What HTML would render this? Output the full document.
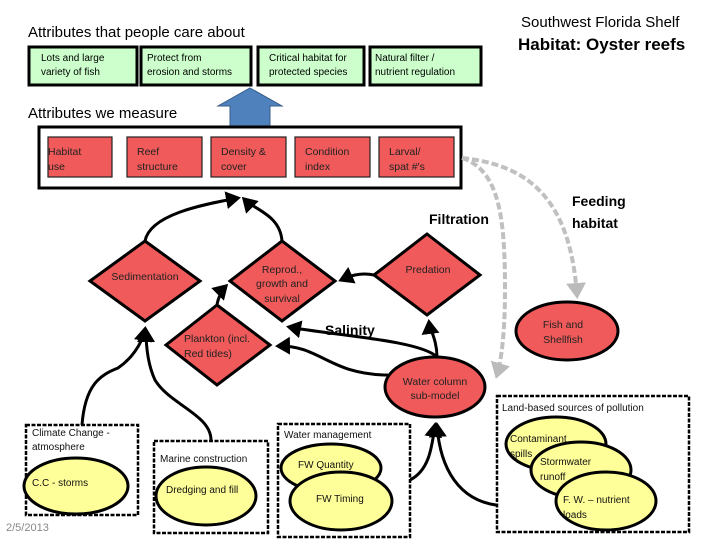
<!DOCTYPE html>
<html><head><meta charset="utf-8"><style>
body{margin:0;width:720px;height:540px;background:#fff;overflow:hidden}
svg{display:block}
text{font-family:"Liberation Sans",sans-serif;}
</style></head><body>
<svg width="720" height="540" viewBox="0 0 720 540">
<defs>
<marker id="a" markerWidth="6" markerHeight="6" refX="4" refY="3" orient="auto" markerUnits="strokeWidth"><path d="M0,0 L5,3 L0,6 Z" fill="#000"/></marker>
<marker id="g" markerWidth="5" markerHeight="5" refX="3" refY="2.5" orient="auto" markerUnits="strokeWidth"><path d="M0,0 L4,2.5 L0,5 Z" fill="#bbb"/></marker>
</defs>
<text x="28" y="37" font-size="15">Attributes that people care about</text>
<text x="521" y="27" font-size="15">Southwest Florida Shelf</text>
<text x="518" y="50" font-size="17" font-weight="bold">Habitat: Oyster reefs</text>
<g stroke="#000" stroke-width="3" fill="#ccffcc">
<rect x="29" y="47" width="108" height="38"/><rect x="141" y="47" width="110" height="38"/>
<rect x="258" y="47" width="106" height="38"/><rect x="370" y="47" width="111" height="38"/></g>
<g font-size="10"><text x="41" y="61">Lots and large</text><text x="41" y="75">variety of fish</text>
<text x="147" y="61">Protect from</text><text x="147" y="75">erosion and storms</text>
<text x="269" y="61">Critical habitat for</text><text x="269" y="75">protected species</text>
<text x="375" y="61">Natural filter /</text><text x="375" y="75">nutrient regulation</text></g>
<path d="M250,88 L282,106 L270,106 L270,126 L230,126 L230,106 L218,106 Z" fill="#4f81bd" stroke="#385d8a" stroke-width="1"/>
<text x="28" y="118" font-size="15">Attributes we measure</text>
<rect x="39" y="127" width="422" height="61" fill="#fff" stroke="#000" stroke-width="3"/>
<g fill="#f05a5a" stroke="#222" stroke-width="1.2">
<rect x="48" y="137" width="64" height="40"/><rect x="127" y="137" width="75" height="40"/><rect x="211" y="137" width="75" height="40"/><rect x="295" y="137" width="75" height="40"/><rect x="379" y="137" width="75" height="40"/></g>
<g font-size="10.5" fill="#222"><text x="48" y="155">Habitat</text><text x="48" y="170">use</text>
<text x="137" y="155">Reef</text><text x="137" y="170">structure</text>
<text x="221" y="155">Density &amp;</text><text x="221" y="170">cover</text>
<text x="305" y="155">Condition</text><text x="305" y="170">index</text>
<text x="389" y="155">Larval/</text><text x="389" y="170">spat #'s</text></g>
<g fill="none" stroke="#c0c0c0" stroke-width="4" stroke-dasharray="7,3">
<path d="M462,158 C500,170 505,220 505,290 C505,340 500,365 497,375" marker-end="url(#g)"/>
<path d="M462,158 C530,165 570,200 577,295" marker-end="url(#g)"/></g>
<g fill="#f05a5a" stroke="#000" stroke-width="3">
<path d="M145,241 L200,281 L145,321 L90,281 Z"/>
<path d="M282,241 L335,281 L282,321 L230,281 Z"/>
<path d="M427,234 L480,275 L427,315 L374,275 Z"/>
<path d="M217,305 L270,345 L217,385 L166,345 Z"/>
<ellipse cx="567" cy="331" rx="51" ry="29"/>
<ellipse cx="435" cy="387" rx="50" ry="30"/></g>
<g font-size="10.5" fill="#222" text-anchor="middle">
<text x="145" y="280">Sedimentation</text>
<text x="282" y="273">Reprod.,</text><text x="282" y="287">growth and</text><text x="282" y="302">survival</text>
<text x="428" y="273">Predation</text>
<text x="563" y="328">Fish and</text><text x="563" y="343">Shellfish</text>
<text x="435" y="385">Water column</text><text x="435" y="399">sub-model</text></g>
<text x="184" y="342" font-size="10.5" fill="#222">Plankton (incl.</text><text x="184" y="357" font-size="10.5" fill="#222">Red tides)</text>
<g font-weight="bold" font-size="14"><text x="429" y="224">Filtration</text><text x="572" y="206">Feeding</text><text x="572" y="228">habitat</text><text x="325" y="335">Salinity</text></g>
<g fill="none" stroke="#000" stroke-width="3">
<path d="M145,241 C150,215 200,205 238,198" marker-end="url(#a)"/>
<path d="M282,241 C280,215 255,210 244,199" marker-end="url(#a)"/>
<path d="M217,305 C218,298 222,290 226,286" marker-end="url(#a)"/>
<path d="M374,275 C360,272 350,276 341,280" marker-end="url(#a)"/>
<path d="M437,357 C437,340 430,330 429,322" marker-end="url(#a)"/>
<path d="M437,357 C420,340 330,335 289,327" marker-end="url(#a)"/>
<path d="M388,375 C330,375 320,345 278,346" marker-end="url(#a)"/>
<path d="M82,425 C85,385 100,375 118,368 C130,360 142,345 145,329" marker-end="url(#a)"/>
<path d="M211,441 C212,415 170,405 155,380 C148,365 146,345 146,330" marker-end="url(#a)"/>
<path d="M410,480 C430,470 432,445 435,425" marker-end="url(#a)"/>
<path d="M496,505 C460,500 440,470 437,425" marker-end="url(#a)"/></g>
<g fill="#fff" stroke="#000" stroke-width="2.5" stroke-dasharray="4,1.5">
<rect x="26" y="425" width="112" height="90"/><rect x="154" y="441" width="114" height="92"/>
<rect x="278" y="424" width="132" height="113"/><rect x="497" y="396" width="192" height="136"/></g>
<g fill="#ffff99" stroke="#000" stroke-width="3">
<ellipse cx="76" cy="486" rx="52" ry="28"/><ellipse cx="206" cy="496" rx="50" ry="29"/>
<ellipse cx="331" cy="468" rx="50" ry="24"/><ellipse cx="341" cy="501" rx="51" ry="29"/>
<ellipse cx="556" cy="444" rx="50" ry="27"/><ellipse cx="581" cy="470" rx="50" ry="28"/><ellipse cx="606" cy="501" rx="50" ry="29"/></g>
<g font-size="10" fill="#111">
<text x="32" y="436">Climate Change -</text><text x="32" y="450">atmosphere</text>
<text x="32" y="486">C.C - storms</text>
<text x="160" y="462">Marine construction</text><text x="166" y="493">Dredging and fill</text>
<text x="284" y="438">Water management</text><text x="298" y="468">FW Quantity</text><text x="316" y="502">FW Timing</text>
<text x="502" y="411">Land-based sources of pollution</text>
<text x="510" y="442">Contaminant</text><text x="510" y="457">spills</text>
<text x="540" y="465">Stormwater</text><text x="540" y="480">runoff</text>
<text x="563" y="503">F. W. – nutrient</text><text x="563" y="518">loads</text></g>
<text x="6" y="531" font-size="11" fill="#888">2/5/2013</text>
</svg>
</body></html>
